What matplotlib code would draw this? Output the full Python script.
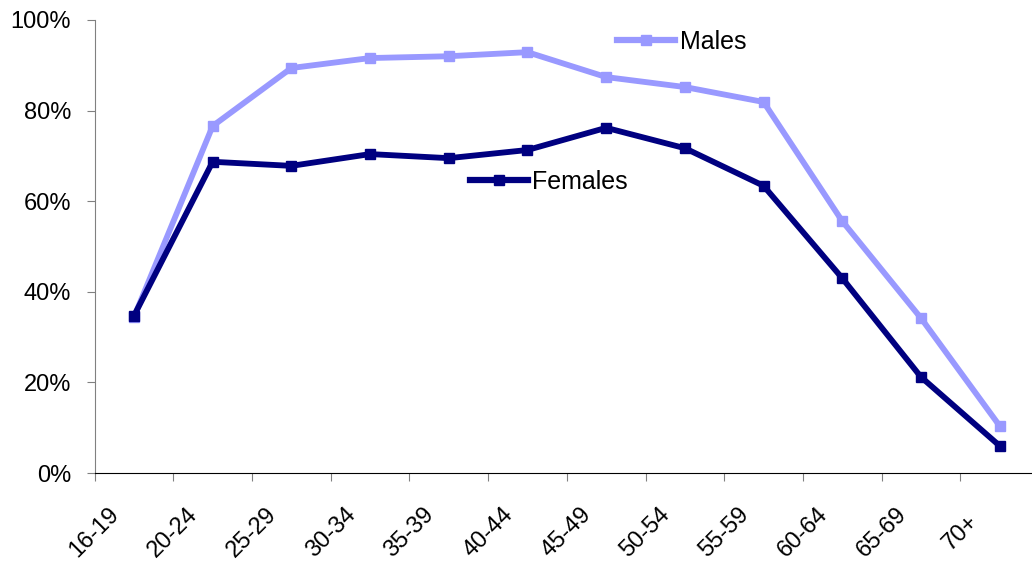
import matplotlib
matplotlib.use("Agg")
import matplotlib.pyplot as plt
from matplotlib.lines import Line2D
from matplotlib.ticker import FuncFormatter

categories = ["16-19", "20-24", "25-29", "30-34", "35-39", "40-44",
              "45-49", "50-54", "55-59", "60-64", "65-69", "70+"]
males = [34.4, 76.6, 89.4, 91.6, 92.0, 92.9, 87.4, 85.2, 81.9, 55.6, 34.2, 10.4]
females = [34.7, 68.7, 67.8, 70.4, 69.5, 71.3, 76.2, 71.7, 63.4, 43.0, 21.2, 6.0]
yticks = [0, 20, 40, 60, 80, 100]

plt.rcParams['font.family'] = ['Liberation Sans', 'DejaVu Sans']

fig = plt.figure(figsize=(10.32, 5.62), dpi=100)
ax = fig.add_axes([94.6 / 1032, 89 / 562, 944.4 / 1032, 453 / 562])

x = list(range(len(categories)))
male_col = "#9999FF"
fem_col = "#000080"
ax.plot(x, males, color=male_col, lw=4.2, marker="s", ms=7, clip_on=False, zorder=3)
ax.plot(x, females, color=fem_col, lw=4.2, marker="s", ms=7, clip_on=False, zorder=4)

ax.set_xlim(-0.5, len(categories) - 0.5)
ax.set_ylim(0, 100)
ax.set_yticks(yticks)
ax.yaxis.set_major_formatter(FuncFormatter(lambda v, p: f"{int(v)}%"))
ax.tick_params(axis="y", labelsize=17, length=6, color="#808080", pad=11)

ax.set_xticks([i - 0.5 for i in x])
ax.set_xticklabels(categories, fontsize=17)
ax.tick_params(axis="x", length=6, color="#808080", pad=37)
for lab in ax.get_xticklabels():
    lab.set_rotation(45)
    lab.set_rotation_mode("anchor")
    lab.set_ha("center")
    lab.set_va("center")

for s in ["top", "right"]:
    ax.spines[s].set_visible(False)
ax.spines["left"].set_color("#808080")
ax.spines["bottom"].set_color("black")

h_m = Line2D([], [], color=male_col, lw=4.5, marker="s", ms=7)
h_f = Line2D([], [], color=fem_col, lw=4.5, marker="s", ms=7)
leg1 = ax.legend([h_m], ["Males"], loc="center left",
                 bbox_to_anchor=((617 - 94.6) / 944.4, (473 - 42) / 453),
                 frameon=False, fontsize=18, handlelength=2.3, handletextpad=0.2,
                 borderpad=0, borderaxespad=0)
ax.add_artist(leg1)
ax.legend([h_f], ["Females"], loc="center left",
          bbox_to_anchor=((470 - 94.6) / 944.4, (473 - 182) / 453),
          frameon=False, fontsize=18, handlelength=2.3, handletextpad=0.2,
          borderpad=0, borderaxespad=0)

fig.savefig("out.png", dpi=100)
